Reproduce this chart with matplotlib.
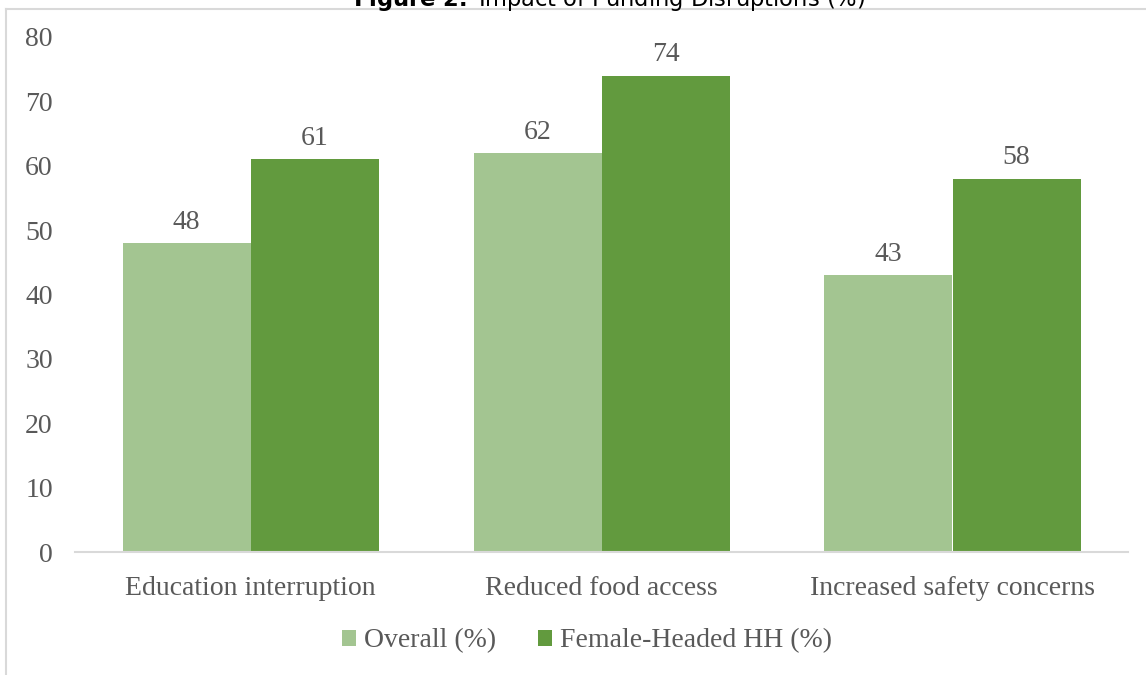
import numpy as np
import matplotlib
matplotlib.use('Agg')
import matplotlib.pyplot as plt
from matplotlib.lines import Line2D

categories = ['Education interruption', 'Reduced food access', 'Increased safety concerns']
overall = [48, 62, 43]
female_headed = [61, 74, 58]
series_names = ['Overall (%)', 'Female-Headed HH (%)']
y_ticks = [0, 10, 20, 30, 40, 50, 60, 70, 80]

LIGHT = '#A3C591'
DARK = '#629A3E'
TEXT = '#595959'
RULE = '#D9D9D9'

W, H = 1146, 675
fig = plt.figure(figsize=(W / 100, H / 100), dpi=100)
plt.rcParams['font.family'] = ['Liberation Serif', 'DejaVu Serif']

# outer frame (top and left edges show)
fig.add_artist(Line2D([6 / W, 6 / W], [0, 1 - 9 / H], transform=fig.transFigure,
                      color=RULE, lw=1.5))
fig.add_artist(Line2D([6 / W, 1], [1 - 9 / H, 1 - 9 / H], transform=fig.transFigure,
                      color=RULE, lw=1.5))

# title sits partly above the frame
fig.text(609 / W, 1 - 6 / H, r'$\bf{Figure\ 2.}$ Impact of Funding Disruptions (%)',
         ha='center', va='baseline', fontsize=16.3, color='black', family='DejaVu Sans')

ax = fig.add_axes([75 / W, (H - 552) / H, (1128 - 75) / W, (552 - 37) / H])
x = np.arange(len(categories))
bw = 128 / 351
b1 = ax.bar(x - bw / 2, overall, bw, color=LIGHT, label=series_names[0])
b2 = ax.bar(x + bw / 2, female_headed, bw, color=DARK, label=series_names[1])

for bars, vals in ((b1, overall), (b2, female_headed)):
    for r, v in zip(bars, vals):
        ax.annotate(str(v), (r.get_x() + r.get_width() / 2, v), xytext=(0, 6),
                    textcoords='offset points', ha='center', va='bottom',
                    fontsize=20, color=TEXT)

ax.set_xlim(-0.5, 2.5)
ax.set_ylim(0, 80)
ax.set_yticks(y_ticks)
ax.set_xticks(x)
ax.set_xticklabels(categories)
ax.tick_params(axis='y', length=0, pad=16, labelsize=20, labelcolor=TEXT)
ax.tick_params(axis='x', length=0, pad=17, labelsize=20, labelcolor=TEXT)
for s in ('top', 'right', 'left'):
    ax.spines[s].set_visible(False)
ax.spines['bottom'].set_color(RULE)
ax.spines['bottom'].set_linewidth(1.5)
ax.patch.set_alpha(0)

ax.legend(loc='center', bbox_to_anchor=(587 / W, 1 - 641 / H), bbox_transform=fig.transFigure,
          ncol=2, frameon=False, fontsize=20, handlelength=0.5, handleheight=0.5,
          handletextpad=0.3, columnspacing=1.5, labelcolor=TEXT)

fig.savefig('out.png', dpi=100)
